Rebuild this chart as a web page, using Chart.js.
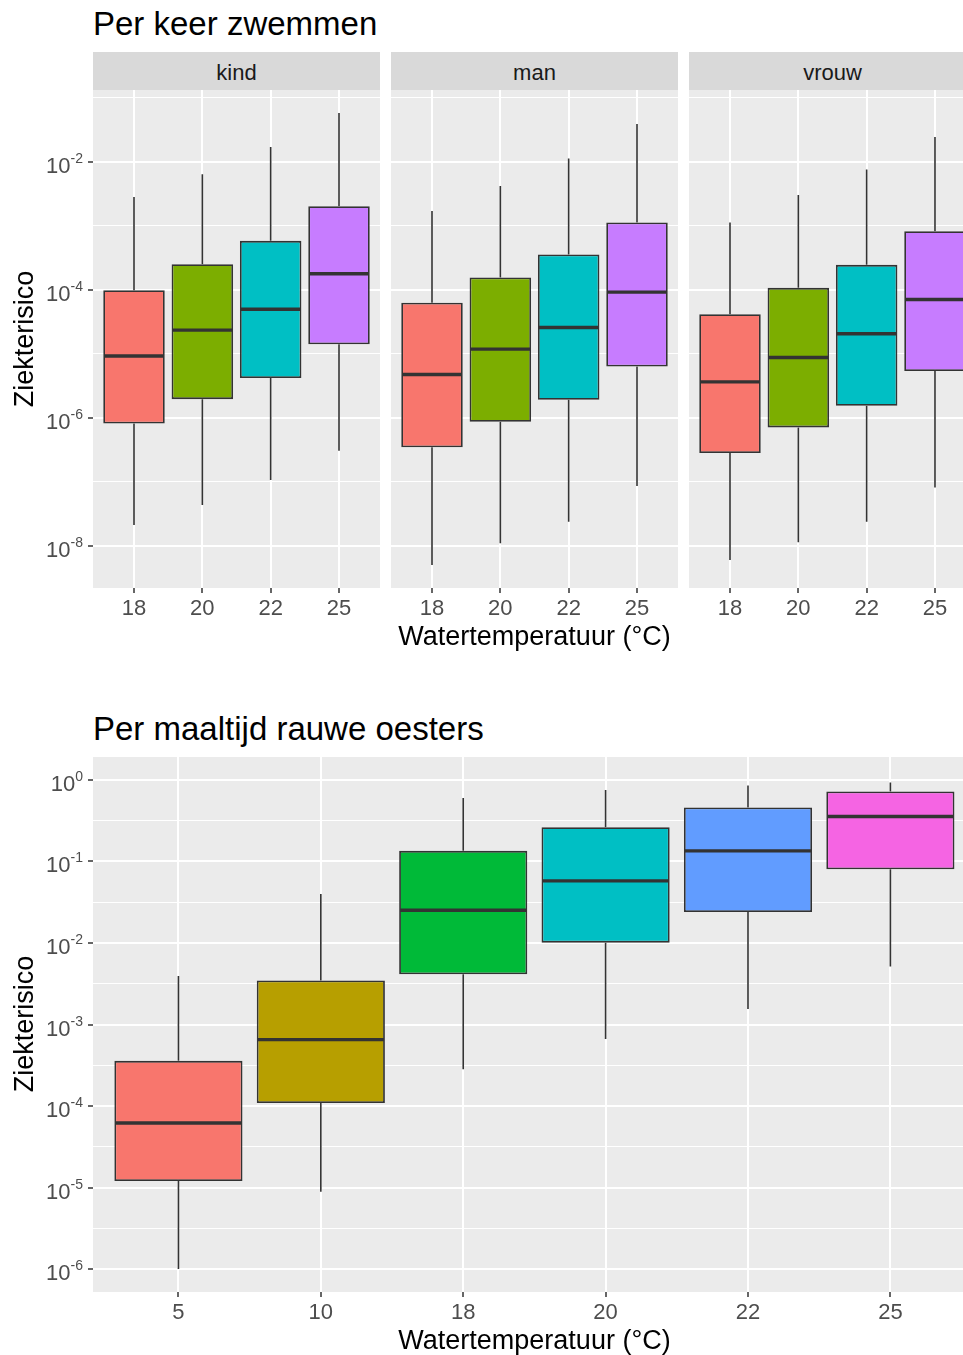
<!DOCTYPE html>
<html>
<head>
<meta charset="utf-8">
<script src="https://cdn.jsdelivr.net/npm/chart.js@4.4.1/dist/chart.umd.min.js"></script>
<style>
  body { margin: 0; width: 963px; height: 1355px; overflow: hidden; position: relative; background: #fff;
         font-family: "Liberation Sans", Arial, sans-serif; }
  .title { position: absolute; left: 93px; font-size: 33px; line-height: 40px; color: #000; white-space: nowrap; }
  .strip { position: absolute; top: 52px; height: 38px; width: 287px; background: #D9D9D9; color: #1A1A1A;
           font-size: 22px; line-height: 41px; text-align: center; overflow: hidden; }
  .xtitle { position: absolute; left: 93px; width: 883px; font-size: 27px; line-height: 32px; text-align: center; color: #000; }
  .ytitle { position: absolute; left: -126px; width: 300px; font-size: 27px; line-height: 32px; text-align: center;
            transform: rotate(-90deg); color: #000; }
  canvas { position: absolute; }
</style>
</head>
<body>
<div class="title" style="top:4px">Per keer zwemmen</div>
<div class="strip" style="left:93px">kind</div>
<div class="strip" style="left:391px">man</div>
<div class="strip" style="left:689px">vrouw</div>
<canvas id="kind" width="380" height="543" style="left:0;top:90px"></canvas>
<canvas id="man" width="287" height="543" style="left:391px;top:90px"></canvas>
<canvas id="vrouw" width="274" height="543" style="left:689px;top:90px"></canvas>
<div class="ytitle" style="top:323px">Ziekterisico</div>
<div class="xtitle" style="top:620px">Watertemperatuur (°C)</div>

<div class="title" style="top:709px">Per maaltijd rauwe oesters</div>
<canvas id="oesters" width="963" height="580" style="left:0;top:757px"></canvas>
<div class="ytitle" style="top:1008px">Ziekterisico</div>
<div class="xtitle" style="top:1324px">Watertemperatuur (°C)</div>

<script>
// --- data: per keer zwemmen ---
const swimTemps = ['18', '20', '22', '25'];

const kindMin = [2.13e-8, 4.37e-8, 1.07e-7, 3.08e-7];
const kindQ1  = [8.2e-7, 1.97e-6, 4.2e-6, 1.42e-5];
const kindMed = [9.3e-6, 2.36e-5, 5.0e-5, 1.79e-4];
const kindQ3  = [9.9e-5, 2.53e-4, 5.85e-4, 2.03e-3];
const kindMax = [2.84e-3, 6.43e-3, 1.71e-2, 5.82e-2];

const manMin = [5.05e-9, 1.10e-8, 2.40e-8, 8.65e-8];
const manQ1  = [3.48e-7, 8.73e-7, 1.92e-6, 6.38e-6];
const manMed = [4.79e-6, 1.19e-5, 2.59e-5, 9.25e-5];
const manQ3  = [6.31e-5, 1.57e-4, 3.58e-4, 1.13e-3];
const manMax = [1.72e-3, 4.22e-3, 1.13e-2, 3.92e-2];

const vrouwMin = [6.04e-9, 1.14e-8, 2.40e-8, 8.24e-8];
const vrouwQ1  = [2.83e-7, 7.13e-7, 1.55e-6, 5.40e-6];
const vrouwMed = [3.67e-6, 8.83e-6, 2.07e-5, 7.10e-5];
const vrouwQ3  = [4.19e-5, 1.08e-4, 2.47e-4, 8.28e-4];
const vrouwMax = [1.13e-3, 3.05e-3, 7.60e-3, 2.45e-2];

const swimMajorTicks = [1e-8, 1e-6, 1e-4, 1e-2];
const swimMinorTicks = [1e-7, 1e-5, 1e-3, 1e-1];

// --- data: per maaltijd rauwe oesters ---
const oysterTemps = ['5', '10', '18', '20', '22', '25'];
const oysterMin = [1.0e-6, 8.85e-6, 2.83e-4, 6.65e-4, 1.55e-3, 5.13e-3];
const oysterQ1  = [1.20e-5, 1.09e-4, 4.13e-3, 1.01e-2, 2.40e-2, 8.02e-2];
const oysterMed = [6.18e-5, 6.52e-4, 2.52e-2, 5.79e-2, 0.135, 0.356];
const oysterQ3  = [3.58e-4, 3.46e-3, 0.135, 0.263, 0.460, 0.723];
const oysterMax = [3.94e-3, 3.99e-2, 0.600, 0.752, 0.855, 0.933];

const oysterMajorTicks = [1e-6, 1e-5, 1e-4, 1e-3, 1e-2, 1e-1, 1];
const oysterMinorTicks = [3.162e-6, 3.162e-5, 3.162e-4, 3.162e-3, 3.162e-2, 0.3162];

// kleuren (ggplot hue)
const swimColors = ['#F8766D', '#7CAE00', '#00BFC4', '#C77CFF'];
const oysterColors = ['#F8766D', '#B79F00', '#00BA38', '#00BFC4', '#619CFF', '#F564E3'];

const FONT = '"Liberation Sans", Arial, sans-serif';

function boxChart(id, o) {
  // grijze paneel-achtergrond
  const panelBg = {
    id: 'panelBg',
    beforeDraw(chart) {
      const a = chart.chartArea, ctx = chart.ctx;
      ctx.save();
      ctx.fillStyle = '#EBEBEB';
      ctx.fillRect(a.left, a.top, a.right - a.left, a.bottom - a.top);
      ctx.restore();
    }
  };

  // snorharen en mediaan
  const boxParts = {
    id: 'boxParts',
    afterDatasetsDraw(chart) {
      const ctx = chart.ctx, a = chart.chartArea, y = chart.scales.y;
      const meta = chart.getDatasetMeta(0);
      ctx.save();
      ctx.beginPath();
      ctx.rect(a.left, a.top, a.right - a.left, a.bottom - a.top);
      ctx.clip();
      ctx.strokeStyle = '#333333';
      meta.data.forEach((bar, i) => {
        const x = bar.x, hw = bar.width / 2;
        ctx.lineWidth = 1.6;
        ctx.beginPath();
        ctx.moveTo(x, y.getPixelForValue(o.max[i]));
        ctx.lineTo(x, y.getPixelForValue(o.q3[i]));
        ctx.moveTo(x, y.getPixelForValue(o.q1[i]));
        ctx.lineTo(x, y.getPixelForValue(o.min[i]));
        ctx.stroke();
        const ym = y.getPixelForValue(o.med[i]);
        ctx.lineWidth = 3.4;
        ctx.beginPath();
        ctx.moveTo(x - hw + 1, ym);
        ctx.lineTo(x + hw - 1, ym);
        ctx.stroke();
      });
      ctx.restore();
    }
  };

  // 10^n labels
  const yLabels = {
    id: 'yLabels',
    afterDraw(chart) {
      if (!o.showY) return;
      const ctx = chart.ctx, y = chart.scales.y;
      const right = chart.chartArea.left - 10;
      ctx.save();
      ctx.fillStyle = '#4D4D4D';
      ctx.textBaseline = 'alphabetic';
      o.major.forEach(v => {
        const py = y.getPixelForValue(v);
        const ex = String(Math.round(Math.log10(v)));
        ctx.font = '14px ' + FONT;
        const ew = ctx.measureText(ex).width;
        ctx.textAlign = 'left';
        ctx.fillText(ex, right - ew, py + 1);
        ctx.font = '22px ' + FONT;
        ctx.textAlign = 'right';
        ctx.fillText('10', right - ew, py + 11);
      });
      ctx.restore();
    }
  };

  const allTicks = o.major.concat(o.minor).sort((a, b) => a - b);

  return new Chart(document.getElementById(id), {
    type: 'bar',
    data: {
      datasets: [{
        data: o.labels.map((l, i) => ({ x: i + 1, y: [o.q1[i], o.q3[i]] })),
        backgroundColor: o.colors,
        borderColor: '#333333',
        borderWidth: 1.8,
        borderSkipped: false,
        barPercentage: 0.9,
        categoryPercentage: 1
      }]
    },
    options: {
      responsive: false,
      animation: false,
      devicePixelRatio: 1,
      events: [],
      layout: { padding: 0 },
      plugins: { legend: { display: false }, tooltip: { enabled: false } },
      scales: {
        x: {
          type: 'linear', min: 0.4, max: o.xMax, bounds: 'data', offset: false,
          afterBuildTicks: s => { s.ticks = o.labels.map((l, i) => ({ value: i + 1 })); },
          afterFit: s => { s.height = 45; },
          ticks: {
            autoSkip: false, maxRotation: 0, padding: 3, color: '#4D4D4D',
            font: { family: FONT, size: 22 },
            callback: (v, i) => o.labels[i]
          },
          grid: { offset: false, color: '#FFFFFF', lineWidth: 2, drawTicks: true, tickLength: 5,
                  tickColor: '#333333', tickWidth: 1.5 },
          border: { display: false }
        },
        y: {
          type: 'logarithmic', min: o.yMin, max: o.yMax, bounds: 'data',
          afterBuildTicks: s => { s.ticks = allTicks.map(v => ({ value: v })); },
          afterFit: s => { s.width = o.showY ? 93 : 0; },
          ticks: { display: false },
          grid: {
            color: '#FFFFFF',
            lineWidth: c => (c.tick && o.major.includes(c.tick.value)) ? 2 : 1,
            drawTicks: o.showY, tickLength: 5, tickWidth: 1.5,
            tickColor: c => (c.tick && o.major.includes(c.tick.value)) ? '#333333' : 'rgba(0,0,0,0)'
          },
          border: { display: false }
        }
      }
    },
    plugins: [panelBg, boxParts, yLabels]
  });
}

const swimYMin = Math.pow(10, -8.656), swimYMax = Math.pow(10, -0.876);

boxChart('kind', { labels: swimTemps, colors: swimColors, min: kindMin, q1: kindQ1, med: kindMed, q3: kindQ3, max: kindMax,
  major: swimMajorTicks, minor: swimMinorTicks, yMin: swimYMin, yMax: swimYMax, xMax: 4.6, showY: true });
boxChart('man', { labels: swimTemps, colors: swimColors, min: manMin, q1: manQ1, med: manMed, q3: manQ3, max: manMax,
  major: swimMajorTicks, minor: swimMinorTicks, yMin: swimYMin, yMax: swimYMax, xMax: 4.6, showY: false });
boxChart('vrouw', { labels: swimTemps, colors: swimColors, min: vrouwMin, q1: vrouwQ1, med: vrouwMed, q3: vrouwQ3, max: vrouwMax,
  major: swimMajorTicks, minor: swimMinorTicks, yMin: swimYMin, yMax: swimYMax, xMax: 4.41, showY: false });

boxChart('oesters', { labels: oysterTemps, colors: oysterColors, min: oysterMin, q1: oysterQ1, med: oysterMed, q3: oysterQ3, max: oysterMax,
  major: oysterMajorTicks, minor: oysterMinorTicks, yMin: Math.pow(10, -6.282), yMax: Math.pow(10, 0.282), xMax: 6.51, showY: true });
</script>
</body>
</html>
